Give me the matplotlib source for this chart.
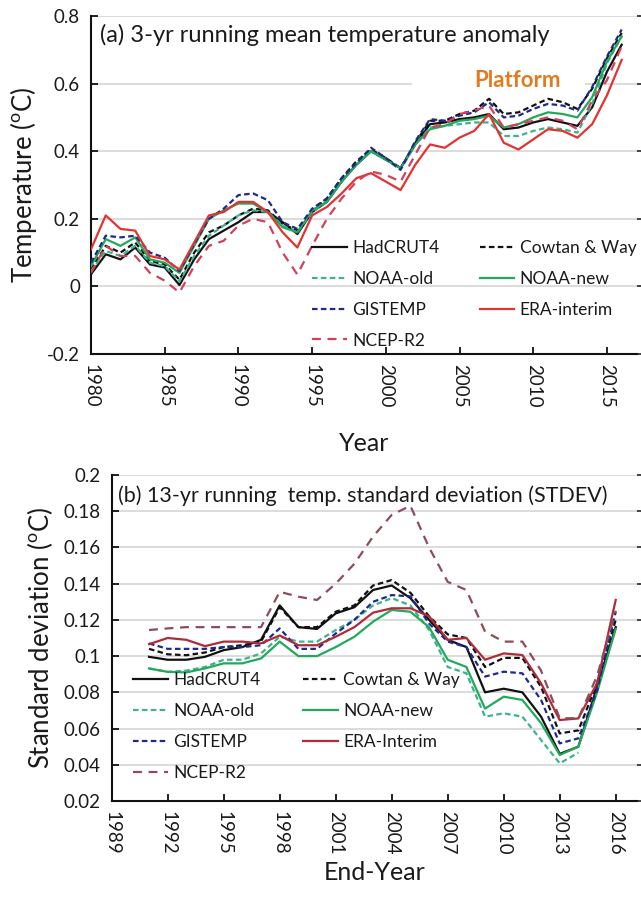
import numpy as np
import matplotlib
matplotlib.use("Agg")
import matplotlib.pyplot as plt
from matplotlib.patches import Rectangle

plt.rcParams['font.family'] = ['Lato', 'DejaVu Sans']
plt.rcParams['mathtext.fontset'] = 'custom'
plt.rcParams['mathtext.rm'] = 'Lato'

# ---------------- panel (a) data ----------------
years_a = list(range(1980, 2017))
had_a = [0.036, 0.095, 0.08, 0.115, 0.065, 0.056, 0.004, 0.08, 0.14, 0.165, 0.19, 0.22, 0.22, 0.19,
         0.155, 0.22, 0.25, 0.31, 0.36, 0.40, 0.375, 0.35, 0.42, 0.48, 0.485, 0.495, 0.50, 0.51,
         0.465, 0.47, 0.485, 0.495, 0.485, 0.475, 0.53, 0.635, 0.715]
cw_a = [0.05, 0.12, 0.10, 0.13, 0.075, 0.065, 0.02, 0.10, 0.16, 0.18, 0.21, 0.23, 0.225, 0.185,
        0.165, 0.225, 0.26, 0.32, 0.37, 0.405, 0.38, 0.35, 0.425, 0.49, 0.49, 0.51, 0.52, 0.555,
        0.51, 0.515, 0.535, 0.555, 0.545, 0.525, 0.585, 0.675, 0.75]
noaa_old_a = [0.045, 0.105, 0.09, 0.12, 0.07, 0.06, 0.015, 0.09, 0.15, 0.18, 0.21, 0.225, 0.22, 0.18,
              0.16, 0.22, 0.25, 0.31, 0.36, 0.40, 0.375, 0.345, 0.42, 0.47, 0.475, 0.48, 0.485, 0.485,
              0.445, 0.445, 0.46, 0.47, 0.465, 0.455, 0.54, 0.66, 0.74]
noaa_new_a = [0.06, 0.14, 0.12, 0.145, 0.08, 0.07, 0.04, 0.12, 0.20, 0.225, 0.245, 0.245, 0.22, 0.175,
              0.16, 0.225, 0.25, 0.31, 0.36, 0.40, 0.375, 0.35, 0.42, 0.465, 0.475, 0.49, 0.495, 0.505,
              0.47, 0.48, 0.50, 0.515, 0.51, 0.50, 0.56, 0.665, 0.74]
gis_a = [0.07, 0.15, 0.145, 0.15, 0.10, 0.085, 0.045, 0.125, 0.20, 0.23, 0.27, 0.275, 0.255, 0.19,
         0.17, 0.23, 0.26, 0.32, 0.365, 0.41, 0.38, 0.345, 0.43, 0.495, 0.49, 0.505, 0.515, 0.545,
         0.50, 0.505, 0.525, 0.54, 0.535, 0.52, 0.59, 0.68, 0.76]
era_a = [0.11, 0.21, 0.17, 0.165, 0.09, 0.08, 0.05, 0.13, 0.21, 0.22, 0.25, 0.25, 0.22, 0.16,
         0.115, 0.21, 0.235, 0.275, 0.32, 0.335, 0.31, 0.285, 0.36, 0.42, 0.41, 0.44, 0.46, 0.51,
         0.425, 0.405, 0.435, 0.465, 0.46, 0.44, 0.48, 0.565, 0.67]
ncep_a = [0.04, 0.12, 0.09, 0.09, 0.04, 0.017, -0.018, 0.06, 0.12, 0.135, 0.18, 0.20, 0.19, 0.10,
          0.035, 0.12, 0.20, 0.26, 0.31, 0.34, 0.33, 0.31, 0.39, 0.47, 0.48, 0.51, 0.52, 0.535,
          0.47, 0.48, 0.49, 0.50, 0.49, 0.465, 0.55, 0.61, 0.71]

# ---------------- panel (b) data ----------------
years_b = list(range(1991, 2017))
had_b = [0.0996, 0.098, 0.098, 0.0996, 0.1033, 0.105, 0.109, 0.128, 0.116, 0.115, 0.1236, 0.127,
         0.1365, 0.139, 0.132, 0.12, 0.109, 0.105, 0.080, 0.082, 0.080, 0.0666, 0.046, 0.050, 0.083, 0.116]
cw_b = [0.104, 0.101, 0.1005, 0.102, 0.105, 0.106, 0.108, 0.127, 0.116, 0.116, 0.1245, 0.128,
        0.139, 0.142, 0.135, 0.122, 0.112, 0.11, 0.094, 0.099, 0.099, 0.083, 0.0573, 0.059, 0.085, 0.12]
noaa_old_b = [0.0932, 0.0913, 0.092, 0.094, 0.098, 0.098, 0.1015, 0.1107, 0.108, 0.108, 0.1144, 0.12,
              0.128, 0.132, 0.128, 0.1144, 0.094, 0.0905, 0.0666, 0.0684, 0.0666, 0.0537, 0.0408, 0.0467,
              np.nan, np.nan]
noaa_new_b = [0.0932, 0.0913, 0.091, 0.0932, 0.096, 0.096, 0.0987, 0.108, 0.100, 0.100, 0.105, 0.1107,
              0.119, 0.1255, 0.1245, 0.116, 0.098, 0.094, 0.071, 0.0776, 0.0758, 0.063, 0.0454, 0.05, 0.080, 0.115]
gis_b = [0.107, 0.104, 0.104, 0.104, 0.105, 0.105, 0.106, 0.1153, 0.104, 0.104, 0.1125, 0.12,
         0.13, 0.1337, 0.133, 0.118, 0.108, 0.105, 0.0887, 0.0914, 0.0905, 0.0758, 0.0518, 0.0546, 0.081, 0.1245]
era_b = [0.1066, 0.110, 0.109, 0.1055, 0.108, 0.108, 0.107, 0.1114, 0.106, 0.106, 0.1107, 0.116,
         0.124, 0.1264, 0.1264, 0.122, 0.109, 0.11, 0.098, 0.1015, 0.1006, 0.085, 0.0647, 0.0656, 0.085, 0.131]
ncep_b = [0.1144, 0.1153, 0.116, 0.116, 0.116, 0.116, 0.116, 0.1355, 0.1328, 0.131, 0.14, 0.151,
          0.166, 0.178, 0.183, 0.16, 0.141, 0.1365, 0.1135, 0.108, 0.108, 0.092, 0.0657, 0.0657, 0.089, 0.125]

xticks_a = [1980, 1985, 1990, 1995, 2000, 2005, 2010, 2015]
yticks_a = [-0.2, 0, 0.2, 0.4, 0.6, 0.8]
ytick_labels_a = ['-0.2', '0', '0.2', '0.4', '0.6', '0.8']
xticks_b = [1989, 1992, 1995, 1998, 2001, 2004, 2007, 2010, 2013, 2016]
yticks_b = [0.02, 0.04, 0.06, 0.08, 0.1, 0.12, 0.14, 0.16, 0.18, 0.2]
ytick_labels_b = ['0.02', '0.04', '0.06', '0.08', '0.1', '0.12', '0.14', '0.16', '0.18', '0.2']

TXT = '#1a1a1a'
W, H = 641, 902
fig = plt.figure(figsize=(W / 100, H / 100), dpi=100)


def style_axes(ax, yticks, ylabels, xticks):
    ax.set_yticks(yticks)
    ax.set_yticklabels(ylabels)
    ax.set_xticks(xticks)
    ax.set_xticklabels([str(t) for t in xticks], rotation=-90)
    ax.grid(axis='y', color='#d9d9d9', linewidth=1.3)
    ax.set_axisbelow(True)
    for s in ['top', 'right']:
        ax.spines[s].set_visible(False)
    for s in ['left', 'bottom']:
        ax.spines[s].set_linewidth(1.5)
        ax.spines[s].set_color('#111111')
    ax.tick_params(axis='both', direction='in', length=5, width=1.3, colors='#111111',
                   labelsize=13.5, labelcolor=TXT)
    ax.tick_params(axis='y', pad=8)
    ax.tick_params(axis='x', pad=7)
    sec = ax.secondary_yaxis('right')
    sec.set_yticks(yticks)
    sec.set_yticklabels([])
    sec.spines['right'].set_visible(False)
    sec.tick_params(direction='out', length=4, width=1.3, colors='#333333')


def two_col_legend(ax, handles, labels, x1, x2, ytop):
    kw = dict(loc='upper left', frameon=False, fontsize=12.5, handlelength=2.0,
              handletextpad=0.3, labelspacing=0.86, borderpad=0, borderaxespad=0,
              labelcolor=TXT)
    leg1 = ax.legend(handles[:4], labels[:4], bbox_to_anchor=(x1, ytop), **kw)
    ax.add_artist(leg1)
    ax.legend(handles[4:], labels[4:], bbox_to_anchor=(x2, ytop), **kw)


lw = 1.6
# ---------------- panel (a) ----------------
ax1 = fig.add_axes([91 / W, 1 - 354 / H, (637 - 91) / W, (354 - 16) / H])
ax1.set_xlim(1980, 2017.04)
ax1.set_ylim(-0.2, 0.8)
style_axes(ax1, yticks_a, ytick_labels_a, xticks_a)

ax1.add_patch(Rectangle((412 / W, 1 - 96 / H), (585 - 412) / W, 36 / H, transform=fig.transFigure,
                        facecolor='white', edgecolor='none', zorder=1))

h_had, = ax1.plot(years_a, had_a, color='#111111', lw=lw, zorder=3)
h_cw, = ax1.plot(years_a, cw_a, color='#111111', lw=lw, dashes=(2.5, 1.5), zorder=3)
h_nold, = ax1.plot(years_a, noaa_old_a, color='#3cb38c', lw=lw, dashes=(2.5, 1.5), zorder=3)
h_nnew, = ax1.plot(years_a, noaa_new_a, color='#23a85c', lw=lw, zorder=3)
h_gis, = ax1.plot(years_a, gis_a, color='#1f2a8c', lw=lw, dashes=(2.5, 1.5), zorder=3)
h_era, = ax1.plot(years_a, era_a, color='#e33232', lw=lw, zorder=3)
h_ncep, = ax1.plot(years_a, ncep_a, color='#d2405a', lw=lw, dashes=(4, 3), zorder=3)

ax1.set_ylabel('Temperature ($^{\\rm o}$C)', fontsize=18.5, color=TXT, labelpad=6)
ax1.set_xlabel('Year', fontsize=18, color=TXT, labelpad=18)
ax1.text(0.016, 0.945, '(a) 3-yr running mean temperature anomaly', transform=ax1.transAxes,
         fontsize=17, color=TXT, va='center', ha='left')
ax1.text(2008.9, 0.61, 'Platform', fontsize=16, color='#e07b20', fontweight='bold',
         ha='center', va='center', zorder=4)

handles_a = [h_had, h_nold, h_gis, h_ncep, h_cw, h_nnew, h_era]
labels_a = ['HadCRUT4', 'NOAA-old', 'GISTEMP', 'NCEP-R2', 'Cowtan & Way', 'NOAA-new', 'ERA-interim']
two_col_legend(ax1, handles_a, labels_a, 0.405, 0.712, 0.338)

# ---------------- panel (b) ----------------
ax2 = fig.add_axes([111.7 / W, 1 - 801 / H, (637 - 111.7) / W, (801 - 475) / H])
ax2.set_xlim(1989, 2017.14)
ax2.set_ylim(0.02, 0.2)
style_axes(ax2, yticks_b, ytick_labels_b, xticks_b)

g_had, = ax2.plot(years_b, had_b, color='#111111', lw=lw, zorder=3)
g_cw, = ax2.plot(years_b, cw_b, color='#111111', lw=lw, dashes=(2.5, 1.5), zorder=3)
g_nold, = ax2.plot(years_b, noaa_old_b, color='#3cb38c', lw=lw, dashes=(2.5, 1.5), zorder=3)
g_nnew, = ax2.plot(years_b, noaa_new_b, color='#23a85c', lw=lw, zorder=3)
g_gis, = ax2.plot(years_b, gis_b, color='#1f2a8c', lw=lw, dashes=(2.5, 1.5), zorder=3)
g_era, = ax2.plot(years_b, era_b, color='#b02a3a', lw=lw, zorder=3)
g_ncep, = ax2.plot(years_b, ncep_b, color='#8e4c5a', lw=lw, dashes=(4, 3), zorder=3)

ax2.set_ylabel('Standard deviation ($^{\\rm o}$C)', fontsize=18.5, color=TXT, labelpad=6)
ax2.set_xlabel('End-Year', fontsize=18, color=TXT, labelpad=5)
ax2.text(0.012, 0.935, '(b) 13-yr running  temp. standard deviation (STDEV)', transform=ax2.transAxes,
         fontsize=15.5, color=TXT, va='center', ha='left')

handles_b = [g_had, g_nold, g_gis, g_ncep, g_cw, g_nnew, g_era]
labels_b = ['HadCRUT4', 'NOAA-old', 'GISTEMP', 'NCEP-R2', 'Cowtan & Way', 'NOAA-new', 'ERA-Interim']
two_col_legend(ax2, handles_b, labels_b, 0.0405, 0.365, 0.395)

fig.savefig('out.png', dpi=100)
